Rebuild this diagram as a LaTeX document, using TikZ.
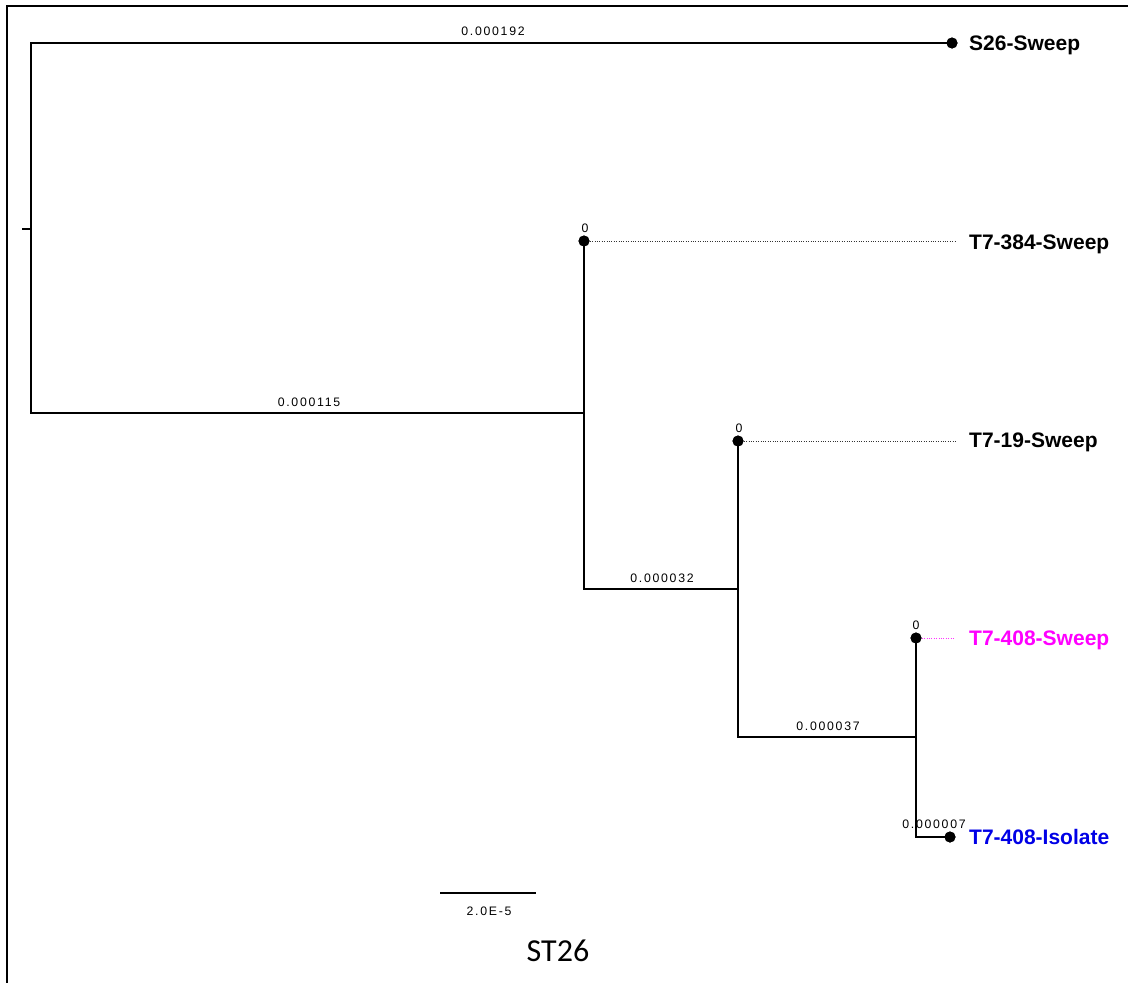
\documentclass[tikz,border=0pt]{standalone}
\usepackage{fontspec}
\setmainfont{Liberation Sans}
\newfontfamily\brfont[LetterSpace=14]{Liberation Sans}
\newfontfamily\capfont{Carlito}
\definecolor{tipmag}{RGB}{255,0,255}
\definecolor{tipblue}{RGB}{0,0,230}
\begin{document}
\begin{tikzpicture}[x=1pt,y=-1pt,
  branch/.style={line width=2.8pt,line cap=rect},
  thinlink/.style={line width=0.8pt,dash pattern=on 1pt off 1.4pt,black!80},
  dotnode/.style={circle,fill=black,inner sep=0pt,minimum size=11pt},
  tiplabel/.style={anchor=west,inner sep=0pt,text height=15pt,text depth=0pt,font=\fontsize{21}{24}\selectfont\bfseries},
  brlabel/.style={anchor=base,inner sep=0pt,font=\fontsize{12.3}{14}\selectfont\brfont},
  frameline/.style={line width=1.8pt}]
\useasboundingbox (0,0) rectangle (1128,983);
% frame
\coordinate (fa) at (7,6);
\coordinate (fb) at (1128,6);
\coordinate (fc) at (7,983);
\draw[frameline] (fc) -- (fa) -- (fb);
% internal nodes
\coordinate (root) at (31,229);
\coordinate (rstub) at (22,229);
\coordinate (r1) at (31,43);
\coordinate (r2) at (31,413);
\coordinate (n1) at (584,413);
\coordinate (n1t) at (584,241);
\coordinate (n1b) at (584,589);
\coordinate (n2) at (738,589);
\coordinate (n2t) at (738,441);
\coordinate (n2b) at (738,737);
\coordinate (n3) at (916,737);
\coordinate (n3t) at (916,638);
\coordinate (n3b) at (916,837);
% tip dots
\node[dotnode] (dS26) at (952,43) {};
\node[dotnode] (d384) at (584,241) {};
\node[dotnode] (d19) at (738,441) {};
\node[dotnode] (d408s) at (916,638) {};
\node[dotnode] (d408i) at (950,837) {};
% dotted ends
\coordinate (e384) at (955,241);
\coordinate (e19) at (955,441);
\coordinate (e408s) at (953,638);
% tree
\draw[line width=2.2pt] (rstub) -- (root);
\draw[branch] (r1) -- (r2);
\draw[branch] (r1) -- (dS26.center);
\draw[branch] (r2) -- (n1);
\draw[branch] (n1t) -- (n1b);
\draw[branch] (n1b) -- (n2);
\draw[branch] (n2t) -- (n2b);
\draw[branch] (n2b) -- (n3);
\draw[branch] (n3t) -- (n3b);
\draw[branch] (n3b) -- (d408i.center);
\draw[thinlink] (d384.east) -- (e384);
\draw[thinlink] (d19.east) -- (e19);
\draw[thinlink,tipmag!80] (d408s.east) -- (e408s);
% redraw dots on top
\fill (dS26) circle (5.5pt);
\fill (d384) circle (5.5pt);
\fill (d19) circle (5.5pt);
\fill (d408s) circle (5.5pt);
\fill (d408i) circle (5.5pt);
% tip labels
\node[tiplabel] (tS26) at (969,43) {S26-Sweep};
\node[tiplabel] (t384) at (969,242) {T7-384-Sweep};
\node[tiplabel] (t19) at (969,440) {T7-19-Sweep};
\node[tiplabel,text=tipmag] (t408s) at (969,638) {T7-408-Sweep};
\node[tiplabel,text=tipblue] (t408i) at (969,837) {T7-408-Isolate};
% branch labels
\node[brlabel] (b1) at (493,35) {0.000192};
\node[brlabel] (b2) at (309,406) {0.000115};
\node[brlabel] (b3) at (662,582) {0.000032};
\node[brlabel] (b4) at (828,730) {0.000037};
\node[brlabel] (b5) at (934,828) {0.000007};
\node[brlabel] (z1) at (585,232) {0};
\node[brlabel] (z2) at (739,432) {0};
\node[brlabel] (z3) at (916,629) {0};
% scale bar
\coordinate (s1) at (440,893);
\coordinate (s2) at (536,893);
\draw[line width=1.3pt] (s1) -- (s2);
\node[brlabel] (sl) at (489,915) {2.0E-5};
% caption
\node[anchor=base,inner sep=0pt,font=\fontsize{32}{36}\selectfont\capfont] (cap) at (558,961) {ST26};
\end{tikzpicture}
\end{document}
